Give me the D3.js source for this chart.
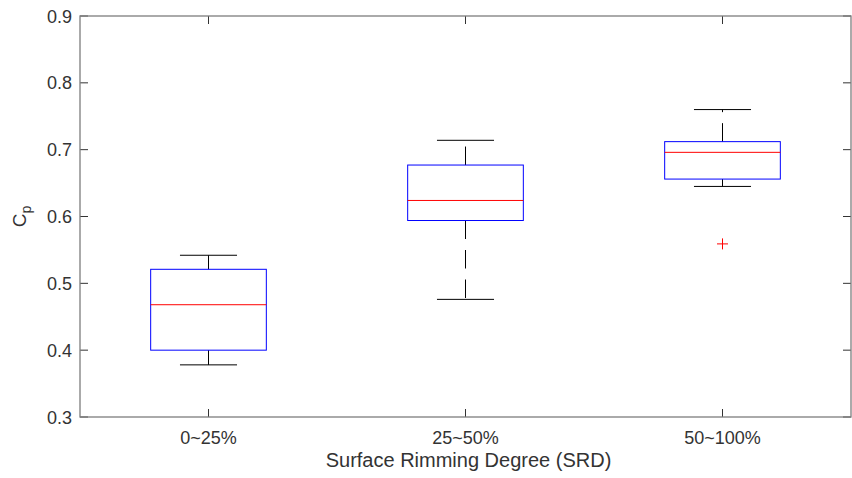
<!DOCTYPE html>
<html>
<head>
<meta charset="utf-8">
<script src="https://cdn.jsdelivr.net/npm/d3@7"></script>
<style>
  html, body { margin: 0; padding: 0; background: #fff; }
  svg { display: block; }
  text { font-family: "Liberation Sans", Arial, Helvetica, sans-serif; }
</style>
</head>
<body>
<script>
// Power coefficient by surface rimming degree: box plot summary statistics
const categories   = ["0~25%", "25~50%", "50~100%"];
const upperWhisker = [0.542, 0.714, 0.760];
const q3           = [0.521, 0.677, 0.712];
const medians      = [0.468, 0.624, 0.696];
const q1           = [0.400, 0.594, 0.656];
const lowerWhisker = [0.378, 0.476, 0.645];
const outliers     = [[], [], [0.559]];
const yTicks       = [0.3, 0.4, 0.5, 0.6, 0.7, 0.8, 0.9];

const W = 852, H = 478;
const plotL = 80, plotR = 851, plotT = 16, plotB = 417;

const svg = d3.select("body").append("svg")
  .attr("width", W).attr("height", H);

const x = d3.scaleLinear().domain([0.5, 3.5]).range([plotL, plotR]);
const y = d3.scaleLinear().domain([0.3, 0.9]).range([plotB, plotT]);

const boxHalf = 0.225;   // half box width in category units
const capHalf = 0.111;   // half whisker-cap width

const axisColor = "#7d7d7d";
const tickColor = "#333";
const textColor = "#333";

// Tick marks on all four sides, pointing inwards
const tickLen = 8;
const g = svg.append("g");
yTicks.forEach(t => {
  g.append("line").attr("x1", plotL).attr("x2", plotL + tickLen)
    .attr("y1", y(t)).attr("y2", y(t)).attr("stroke", tickColor).attr("stroke-width", 1);
  g.append("line").attr("x1", plotR - tickLen).attr("x2", plotR)
    .attr("y1", y(t)).attr("y2", y(t)).attr("stroke", tickColor).attr("stroke-width", 1);
});
categories.forEach((c, i) => {
  const cx = x(i + 1);
  g.append("line").attr("x1", cx).attr("x2", cx)
    .attr("y1", plotB).attr("y2", plotB - tickLen).attr("stroke", tickColor).attr("stroke-width", 1);
  g.append("line").attr("x1", cx).attr("x2", cx)
    .attr("y1", plotT).attr("y2", plotT + tickLen).attr("stroke", tickColor).attr("stroke-width", 1);
});

// Frame
svg.append("rect")
  .attr("x", plotL).attr("y", plotT)
  .attr("width", plotR - plotL).attr("height", plotB - plotT)
  .attr("fill", "none").attr("stroke", axisColor).attr("stroke-width", 1.3);

// Y tick labels
svg.append("g").selectAll("text").data(yTicks).join("text")
  .attr("x", plotL - 8)
  .attr("y", d => y(d) + 6.5)
  .attr("text-anchor", "end")
  .attr("font-size", 18)
  .attr("fill", textColor)
  .text(d => d.toFixed(1));

// X tick labels
svg.append("g").selectAll("text").data(categories).join("text")
  .attr("x", (d, i) => x(i + 1))
  .attr("y", 444)
  .attr("text-anchor", "middle")
  .attr("font-size", 18)
  .attr("fill", textColor)
  .text(d => d);

// Axis labels
svg.append("text")
  .attr("x", (plotL + plotR) / 2 + 3)
  .attr("y", 467)
  .attr("text-anchor", "middle")
  .attr("font-size", 20)
  .attr("fill", textColor)
  .text("Surface Rimming Degree (SRD)");

const yl = svg.append("text")
  .attr("transform", `translate(26,${(plotT + plotB) / 2}) rotate(-90)`)
  .attr("text-anchor", "middle")
  .attr("font-size", 19)
  .attr("fill", textColor);
yl.append("tspan").text("C");
yl.append("tspan").attr("dy", 5).attr("font-size", 14).text("p");

// Boxes
const boxes = svg.append("g");
categories.forEach((c, i) => {
  const cx = x(i + 1);
  const bx0 = x(i + 1 - boxHalf), bx1 = x(i + 1 + boxHalf);
  const cx0 = x(i + 1 - capHalf), cx1 = x(i + 1 + capHalf);

  // dashed whiskers, drawn outward from the box edges
  boxes.append("line").attr("x1", cx).attr("x2", cx)
    .attr("y1", y(q3[i])).attr("y2", y(upperWhisker[i]))
    .attr("stroke", "#000").attr("stroke-width", 1).attr("stroke-dasharray", "18.5,11");
  boxes.append("line").attr("x1", cx).attr("x2", cx)
    .attr("y1", y(q1[i])).attr("y2", y(lowerWhisker[i]))
    .attr("stroke", "#000").attr("stroke-width", 1).attr("stroke-dasharray", "18.5,11");

  // caps
  [upperWhisker[i], lowerWhisker[i]].forEach(v => {
    boxes.append("line").attr("x1", cx0).attr("x2", cx1)
      .attr("y1", y(v)).attr("y2", y(v))
      .attr("stroke", "#000").attr("stroke-width", 1);
  });

  // box
  boxes.append("rect")
    .attr("x", bx0).attr("y", y(q3[i]))
    .attr("width", bx1 - bx0).attr("height", y(q1[i]) - y(q3[i]))
    .attr("fill", "none").attr("stroke", "#0000ff").attr("stroke-width", 1);

  // median
  boxes.append("line").attr("x1", bx0).attr("x2", bx1)
    .attr("y1", y(medians[i])).attr("y2", y(medians[i]))
    .attr("stroke", "#ff0000").attr("stroke-width", 1);

  // outliers as '+' markers
  outliers[i].forEach(v => {
    const oy = y(v), s = 5.5;
    boxes.append("path")
      .attr("d", `M${cx - s},${oy}H${cx + s}M${cx},${oy - s}V${oy + s}`)
      .attr("stroke", "#ff0000").attr("stroke-width", 1).attr("fill", "none");
  });
});
</script>
</body>
</html>
